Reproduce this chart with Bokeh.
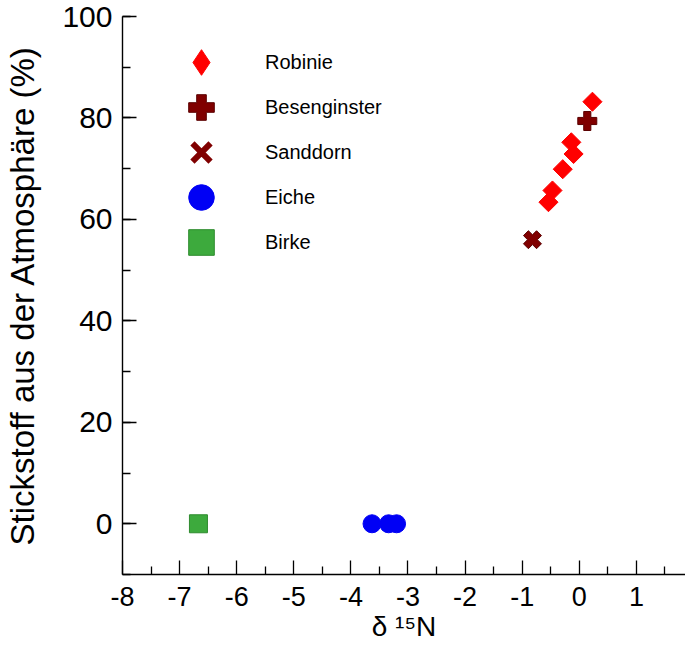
import math
import numpy as np
from bokeh.plotting import figure
from bokeh.models import Range1d, FixedTicker, Legend, LegendItem
from bokeh.embed import file_html
from bokeh.resources import INLINE

# ---- data ----
robinie_x = [0.23, -0.14, -0.10, -0.29, -0.47, -0.54]
robinie_y = [83.2, 75.2, 72.9, 69.9, 65.7, 63.4]
besenginster_x = [0.14]
besenginster_y = [79.4]
sanddorn_x = [-0.82]
sanddorn_y = [56.0]
eiche_x = [-3.63, -3.34, -3.20]
eiche_y = [0, 0, 0]
birke_x = [-6.67]
birke_y = [0]

x_ticks = [-8, -7, -6, -5, -4, -3, -2, -1, 0, 1]
x_tick_labels = ["-8", "-7", "-6", "-5", "-4", "-3", "-2", "-1", "0", "1"]
y_ticks = [0, 20, 40, 60, 80, 100]
y_tick_labels = ["0", "20", "40", "60", "80", "100"]

series_names = ["Robinie", "Besenginster", "Sanddorn", "Eiche", "Birke"]
y_title = "Stickstoff aus der Atmosphäre (%)"
x_title = "δ ¹⁵N"

FONT = "Liberation Sans"

p = figure(width=685, height=652,
           x_range=Range1d(-8, 1.86), y_range=Range1d(-10, 100),
           output_backend="svg", toolbar_location=None,
           min_border_left=122, min_border_right=0,
           min_border_top=16, min_border_bottom=78)

p.xgrid.visible = False
p.ygrid.visible = False
p.outline_line_color = None
p.background_fill_color = "white"
p.border_fill_color = "white"

p.xaxis.ticker = FixedTicker(ticks=x_ticks,
                             minor_ticks=list(np.arange(-7.5, 2.0, 1.0)))
p.yaxis.ticker = FixedTicker(ticks=y_ticks,
                             minor_ticks=list(np.arange(-10, 101, 10)))
p.xaxis.major_label_overrides = dict(zip(x_ticks, x_tick_labels))
p.yaxis.major_label_overrides = dict(zip(y_ticks, y_tick_labels))

for ax in (p.xaxis, p.yaxis):
    ax.axis_line_color = "black"
    ax.axis_line_width = 1.4
    ax.major_tick_line_color = "black"
    ax.minor_tick_line_color = "black"
    ax.major_tick_line_width = 1.3
    ax.minor_tick_line_width = 1.3
    ax.major_tick_in = 14
    ax.major_tick_out = 0
    ax.minor_tick_in = 8
    ax.minor_tick_out = 0
    ax.major_label_text_font = FONT
    ax.major_label_text_color = "black"

p.xaxis.major_label_text_font_size = "27px"
p.xaxis.major_label_standoff = 12
p.yaxis.major_label_text_font_size = "30px"
p.yaxis.major_label_standoff = 10

p.yaxis.axis_label = y_title
p.yaxis.axis_label_text_font = FONT
p.yaxis.axis_label_text_font_size = "33px"
p.yaxis.axis_label_text_font_style = "normal"
p.yaxis.axis_label_text_color = "black"
p.yaxis.axis_label_standoff = 18

p.xaxis.axis_label = x_title
p.xaxis.axis_label_text_font = FONT
p.xaxis.axis_label_text_font_size = "28px"
p.xaxis.axis_label_text_font_style = "normal"
p.xaxis.axis_label_text_color = "black"
p.xaxis.axis_label_standoff = 2

# ---- data marks ----
r_rob = p.scatter(robinie_x, robinie_y, marker="square", angle=math.pi / 4,
                  size=13.5, fill_color="#FF0000", line_color="#FF0000")
r_bes = p.scatter(besenginster_x, besenginster_y, marker="plus", size=19,
                  fill_color="#800000", line_color="#5A0000", line_width=1)
r_san = p.scatter(sanddorn_x, sanddorn_y, marker="plus", angle=math.pi / 4,
                  size=18.5, fill_color="#800000", line_color="#5A0000",
                  line_width=1)
r_eic = p.scatter(eiche_x, eiche_y, marker="circle", size=18,
                  fill_color="#0000F5", line_color="#0000F5")
r_bir = p.scatter(birke_x, birke_y, marker="square", size=18,
                  fill_color="#3DAA3D", line_color="#2E8B2E", line_width=1)

# legend-only glyph styles (legend markers are always drawn unrotated)
l_rob = p.scatter(robinie_x, robinie_y, marker="diamond", visible=False,
                  fill_color="#FF0000", line_color="#FF0000")
l_san = p.scatter(sanddorn_x, sanddorn_y, marker="x", visible=False,
                  line_color="#800000", line_width=6)

legend_renderers = [l_rob, r_bes, l_san, r_eic, r_bir]
for i, (name, rend) in enumerate(zip(series_names, legend_renderers)):
    lg = Legend(items=[LegendItem(label=name, renderers=[rend])],
                location=(47, 480 - 45 * i))
    lg.glyph_width = 64
    lg.glyph_height = 64
    lg.spacing = 0
    lg.padding = 0
    lg.margin = 0
    lg.label_standoff = 32
    lg.label_text_font = FONT
    lg.label_text_font_size = "20px"
    lg.label_text_color = "black"
    lg.border_line_color = None
    lg.background_fill_alpha = 0
    lg.inactive_fill_alpha = 0
    p.add_layout(lg)

open("out.html", "w").write(file_html(p, INLINE))
